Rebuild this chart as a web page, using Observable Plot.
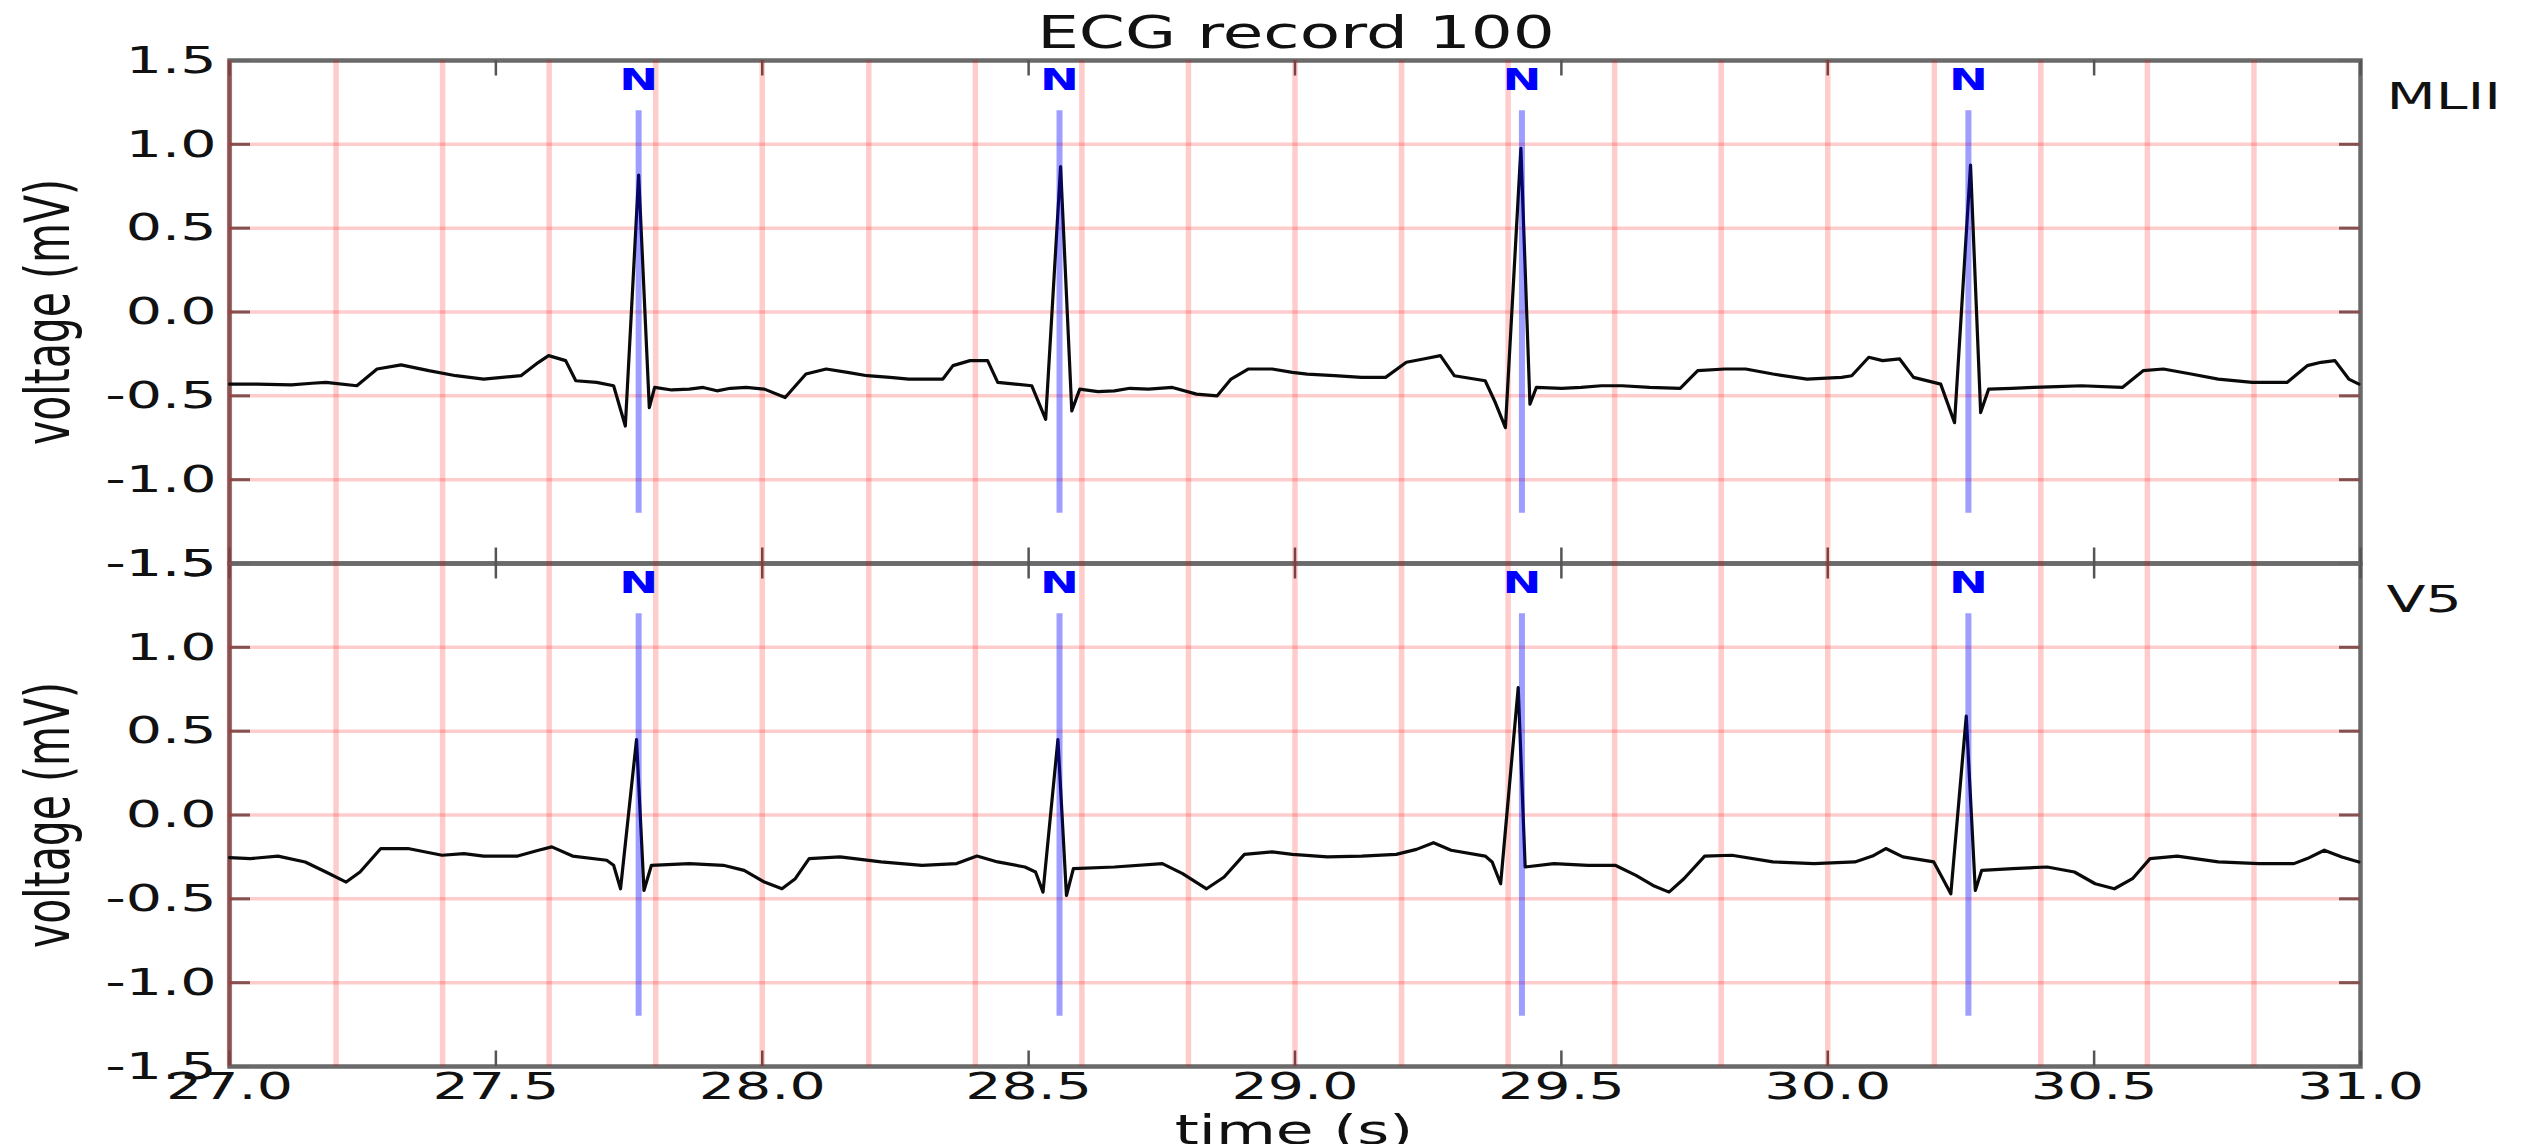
<!DOCTYPE html>
<html>
<head>
<meta charset="utf-8">
<script src="https://cdn.jsdelivr.net/npm/d3@7"></script>
<script src="https://cdn.jsdelivr.net/npm/@observablehq/plot@0.6"></script>
<style>
html, body { margin: 0; padding: 0; background: #fff; overflow: hidden; width: 2538px; height: 1144px; }
#fig { position: relative; width: 2538px; height: 1144px; font-family: "DejaVu Sans", sans-serif; }
#chart { position: absolute; left: 0; top: 0; }
.title { position: absolute; z-index: 2; left: 1296px; top: 11px; font-size: 44px; line-height: 44px; white-space: nowrap; color: #111; transform: translateX(-50%) scaleX(1.5); }
.xlabel { position: absolute; z-index: 2; left: 1294px; top: 1110px; font-size: 41px; line-height: 41px; white-space: nowrap; color: #111; transform: translateX(-50%) scaleX(1.5); }
</style>
</head>
<body>
<div id="fig">
  <div id="chart"></div>
  <div class="title">ECG record 100</div>
  <div class="xlabel">time (s)</div>
</div>
<script>
// ---- data ----
const channels = ["MLII", "V5"];

const mliiTime = [27.000, 27.052, 27.116, 27.155, 27.181, 27.239, 27.277, 27.322, 27.374, 27.425, 27.477, 27.547, 27.580, 27.599, 27.631, 27.650, 27.689, 27.721, 27.743, 27.768, 27.788, 27.798, 27.830, 27.863, 27.889, 27.915, 27.940, 27.970, 28.004, 28.043, 28.082, 28.120, 28.160, 28.197, 28.240, 28.275, 28.339, 28.358, 28.390, 28.423, 28.442, 28.475, 28.506, 28.532, 28.560, 28.581, 28.596, 28.630, 28.661, 28.690, 28.725, 28.770, 28.815, 28.854, 28.880, 28.912, 28.957, 28.995, 29.023, 29.074, 29.125, 29.170, 29.209, 29.241, 29.273, 29.299, 29.357, 29.376, 29.395, 29.424, 29.441, 29.453, 29.500, 29.537, 29.575, 29.614, 29.666, 29.723, 29.756, 29.807, 29.846, 29.897, 29.961, 30.026, 30.045, 30.077, 30.103, 30.135, 30.161, 30.212, 30.238, 30.268, 30.287, 30.302, 30.345, 30.386, 30.430, 30.476, 30.553, 30.592, 30.630, 30.682, 30.733, 30.797, 30.862, 30.900, 30.926, 30.952, 30.978, 30.997];
const mliiVolt = [-0.43, -0.43, -0.435, -0.425, -0.42, -0.44, -0.34, -0.315, -0.35, -0.38, -0.40, -0.38, -0.30, -0.26, -0.29, -0.41, -0.42, -0.44, -0.68, 0.817, -0.57, -0.45, -0.465, -0.46, -0.45, -0.47, -0.455, -0.45, -0.46, -0.51, -0.37, -0.34, -0.36, -0.38, -0.39, -0.40, -0.40, -0.32, -0.29, -0.29, -0.42, -0.43, -0.44, -0.64, 0.867, -0.59, -0.46, -0.475, -0.47, -0.455, -0.46, -0.45, -0.49, -0.50, -0.40, -0.34, -0.34, -0.36, -0.37, -0.38, -0.39, -0.39, -0.30, -0.28, -0.26, -0.38, -0.41, -0.54, -0.69, 0.976, -0.55, -0.45, -0.455, -0.45, -0.44, -0.44, -0.45, -0.455, -0.35, -0.34, -0.34, -0.37, -0.40, -0.39, -0.38, -0.27, -0.29, -0.28, -0.39, -0.43, -0.66, 0.876, -0.60, -0.46, -0.455, -0.45, -0.445, -0.44, -0.45, -0.35, -0.34, -0.37, -0.40, -0.42, -0.42, -0.32, -0.30, -0.29, -0.40, -0.43];

const v5Time = [27.000, 27.039, 27.091, 27.142, 27.181, 27.219, 27.245, 27.284, 27.335, 27.399, 27.440, 27.477, 27.541, 27.580, 27.605, 27.644, 27.708, 27.721, 27.734, 27.764, 27.778, 27.792, 27.863, 27.927, 27.966, 28.004, 28.037, 28.062, 28.088, 28.146, 28.223, 28.300, 28.365, 28.403, 28.442, 28.493, 28.513, 28.527, 28.555, 28.571, 28.584, 28.661, 28.751, 28.789, 28.834, 28.867, 28.905, 28.957, 28.995, 29.061, 29.125, 29.190, 29.228, 29.260, 29.293, 29.357, 29.370, 29.386, 29.419, 29.432, 29.486, 29.550, 29.601, 29.640, 29.672, 29.702, 29.730, 29.769, 29.820, 29.897, 29.974, 30.051, 30.084, 30.109, 30.141, 30.199, 30.216, 30.231, 30.260, 30.277, 30.289, 30.347, 30.412, 30.463, 30.502, 30.538, 30.572, 30.605, 30.656, 30.733, 30.810, 30.875, 30.900, 30.932, 30.965, 30.997];
const v5Volt = [-0.254, -0.26, -0.245, -0.28, -0.34, -0.40, -0.34, -0.20, -0.20, -0.24, -0.23, -0.245, -0.245, -0.21, -0.19, -0.245, -0.27, -0.30, -0.44, 0.45, -0.45, -0.30, -0.29, -0.30, -0.33, -0.40, -0.44, -0.38, -0.26, -0.25, -0.28, -0.30, -0.29, -0.245, -0.28, -0.31, -0.34, -0.46, 0.45, -0.48, -0.32, -0.31, -0.29, -0.35, -0.44, -0.37, -0.235, -0.22, -0.235, -0.25, -0.245, -0.235, -0.205, -0.165, -0.21, -0.245, -0.28, -0.41, 0.76, -0.31, -0.29, -0.30, -0.30, -0.36, -0.42, -0.46, -0.38, -0.245, -0.24, -0.28, -0.29, -0.28, -0.245, -0.20, -0.25, -0.28, -0.38, -0.47, 0.59, -0.45, -0.33, -0.32, -0.31, -0.34, -0.41, -0.44, -0.38, -0.26, -0.245, -0.28, -0.29, -0.29, -0.26, -0.21, -0.25, -0.28];

const beatTimes = [27.768, 28.558, 29.426, 30.264];
const beatSymbols = ["N", "N", "N", "N"];

const xTickValues = [27.0, 27.5, 28.0, 28.5, 29.0, 29.5, 30.0, 30.5, 31.0];
const yTickValues = [-1.5, -1.0, -0.5, 0.0, 0.5, 1.0, 1.5];
const gridTimes = [27.0, 27.2, 27.4, 27.6, 27.8, 28.0, 28.2, 28.4, 28.6, 28.8, 29.0, 29.2, 29.4, 29.6, 29.8, 30.0, 30.2, 30.4, 30.6, 30.8];
const gridVolts = [-1.0, -0.5, 0.0, 0.5, 1.0];
const yLabel = "voltage (mV)";

// ---- build table for the library ----
const signal = [
  ...mliiTime.map((t, i) => ({ch: "MLII", t, v: mliiVolt[i]})),
  ...v5Time.map((t, i) => ({ch: "V5", t, v: v5Volt[i]}))
];

const W = 2538, H = 1144, mL = 229, mR = 178, mT = 59, mB = 78;
const plotW = W - mL - mR;
const facetH = (H - mT - mB) / 2;

const chart = Plot.plot({
  width: W,
  height: H,
  marginLeft: mL,
  marginRight: mR,
  marginTop: mT,
  marginBottom: mB,
  style: {fontFamily: "DejaVu Sans, sans-serif", fontSize: "38px", color: "#111", background: "transparent", overflow: "visible"},
  x: {domain: [27, 31], ticks: xTickValues, tickFormat: d => d.toFixed(1), tickSize: 0, tickPadding: 6, label: null},
  y: {domain: [-1.5, 1.5], ticks: yTickValues, tickFormat: d => d.toFixed(1), tickSize: 0, tickPadding: 13, label: null},
  fy: {domain: channels, padding: 0, axis: null, label: null},
  marks: [
    Plot.frame({stroke: "#6a6a6a", strokeWidth: 4.5}),
    Plot.tickX(xTickValues, {x: d => d, insetBottom: facetH - 16, stroke: "#555", strokeWidth: 2.5}),
    Plot.tickX(xTickValues, {x: d => d, insetTop: facetH - 16, stroke: "#555", strokeWidth: 2.5}),
    Plot.tickY(yTickValues, {y: d => d, insetRight: plotW - 21, stroke: "#666", strokeWidth: 3}),
    Plot.tickY(yTickValues, {y: d => d, insetLeft: plotW - 21, stroke: "#666", strokeWidth: 3}),
    Plot.ruleX(gridTimes, {x: d => d, stroke: "red", strokeOpacity: 0.2, strokeWidth: 5.5}),
    Plot.ruleY(gridVolts, {y: d => d, stroke: "red", strokeOpacity: 0.2, strokeWidth: 3.5}),
    Plot.line(signal, {x: "t", y: "v", fy: "ch", z: "ch", stroke: "#0a0a0a", strokeWidth: 3.2, strokeLinejoin: "round"}),
    Plot.ruleX(beatTimes, {x: d => d, y1: -1.2, y2: 1.2, stroke: "blue", strokeOpacity: 0.38, strokeWidth: 6}),
    Plot.text(beatTimes, {x: d => d, y: 1.385, text: (d, i) => beatSymbols[i], fill: "blue", fontWeight: "bold", fontSize: 31}),
    Plot.text(channels, {fy: d => d, frameAnchor: "left", textAnchor: "middle", lineAnchor: "middle", dx: -180, rotate: -90, text: () => yLabel, fontSize: 41, fill: "#111"}),
    Plot.text(channels, {fy: d => d, frameAnchor: "top-right", textAnchor: "start", lineAnchor: "middle", dx: 26, dy: 36, text: d => d, fontSize: 38, fill: "#111"})
  ]
});

document.getElementById("chart").appendChild(chart);

// widen glyphs horizontally like the reference (stretched figure)
const SX = 1.5;
const svgs = chart.tagName.toLowerCase() === "svg" ? [chart] : Array.from(chart.querySelectorAll("svg"));
svgs.forEach(svg => {
  svg.querySelectorAll("text").forEach(t => {
    const tr = t.getAttribute("transform") || "";
    const m = tr.match(/^(.*?)(\s*rotate\([^)]*\))?\s*$/);
    const base = m ? m[1] : tr;
    const rot = m && m[2] ? m[2] : "";
    t.setAttribute("transform", `${base} scale(${SX},1)${rot}`);
    const xa = t.getAttribute("x");
    if (xa !== null && !/em/.test(xa)) t.setAttribute("x", (parseFloat(xa) || 0) / SX);
  });
});
</script>
</body>
</html>
